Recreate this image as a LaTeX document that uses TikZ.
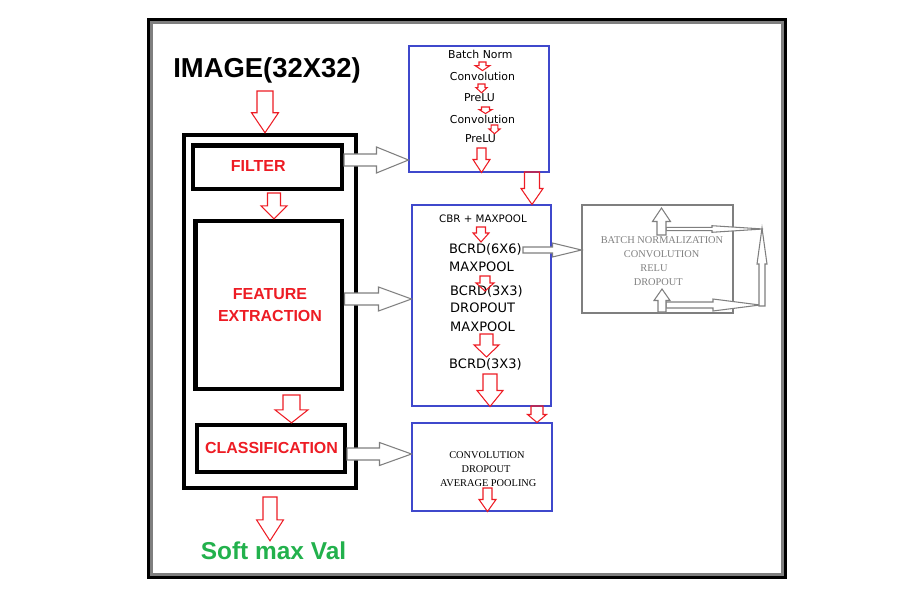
\documentclass[tikz,border=0pt]{standalone}
\usepackage{fontspec}
\setmainfont{DejaVu Sans}
\newfontfamily\headfont{Liberation Sans}
\newfontfamily\capfont{Liberation Serif}
\usetikzlibrary{calc}

\definecolor{pred}{HTML}{ED1C24}
\definecolor{pgreen}{HTML}{22B14C}
\definecolor{pblue}{HTML}{3F48CC}
\definecolor{pgray}{HTML}{7F7F7F}

% hollow block arrow: style, start, tip, shaft half width, head half width, head length (px)
\newcommand{\blockarrow}[6]{%
  \coordinate (ba-s) at (#2);
  \coordinate (ba-e) at (#3);
  \coordinate (ba-n) at ($(ba-e)!#6*0.02cm!(ba-s)$);
  \draw[#1] ($(ba-s)!#4*0.02cm!90:(ba-e)$) -- ($(ba-n)!#4*0.02cm!-90:(ba-s)$)
    -- ($(ba-n)!#5*0.02cm!-90:(ba-s)$) -- (ba-e)
    -- ($(ba-n)!#5*0.02cm!90:(ba-s)$) -- ($(ba-n)!#4*0.02cm!90:(ba-s)$)
    -- ($(ba-s)!#4*0.02cm!-90:(ba-e)$) -- cycle;
}

\begin{document}
\begin{tikzpicture}[x=0.02cm, y=-0.02cm,
  thickbox/.style={draw, line width=0.086cm},
  bluebox/.style={draw=pblue, line width=0.6pt},
  greybox/.style={draw=pgray, line width=0.6pt},
  redarr/.style={draw=pred, line width=0.6pt, line join=miter},
  grayarr/.style={draw=pgray, fill=white, line width=0.6pt, line join=miter},
  txt/.style={inner sep=0.5pt},
  smalltxt/.style={txt, font={\fontsize{6.2}{7}\selectfont}},
  midtxt/.style={txt, anchor=west, font={\fontsize{7.4}{9}\selectfont}},
  captxt/.style={txt, font={\capfont\fontsize{5.9}{7}\selectfont}},
  redlbl/.style={txt, text=pred, align=center, font={\headfont\bfseries\fontsize{9.1}{12.5}\selectfont}}]
\useasboundingbox (0,0) rectangle (909,601);

% frame
\draw[line width=0.066cm] (148.3,19.2) rectangle (785,577.7);
\draw[pgray, line width=0.06cm] (151.7,22.5) rectangle (782,574.7);

% left column
\node[txt, font={\headfont\bfseries\fontsize{15.6}{18}\selectfont}] (img) at (267,70) {IMAGE(32X32)};
\node[thickbox, line width=0.08cm, minimum width=3.452cm, minimum height=7.066cm] (outer) at (270,311.35) {};
\node[thickbox, minimum width=2.986cm, minimum height=0.866cm] (filter) at (267.5,167.2) {};
\node[thickbox, minimum width=2.934cm, minimum height=3.356cm] (feature) at (268.8,304.9) {};
\node[thickbox, minimum width=2.95cm, minimum height=0.94cm] (classif) at (271,448.5) {};
\node[redlbl] (filtertxt) at (258.3,166.5) {FILTER};
\node[redlbl] (feattxt) at (270,305) {FEATURE\\EXTRACTION};
\node[redlbl] (clstxt) at (271.5,447.5) {CLASSIFICATION};
\node[txt, text=pgreen, font={\headfont\bfseries\fontsize{13.9}{16}\selectfont}] (soft) at (273.5,551) {Soft max Val};

% right column
\node[bluebox, minimum width=2.8cm, minimum height=2.52cm] (b1) at (479,109) {};
\node[bluebox, minimum width=2.78cm, minimum height=4.02cm] (b2) at (481.5,305.5) {};
\node[bluebox, minimum width=2.8cm, minimum height=1.76cm] (b3) at (482,467) {};
\node[greybox, minimum width=3.02cm, minimum height=2.16cm] (gbox) at (657.5,259) {};

\node[smalltxt] (bnorm) at (480.3,54) {Batch Norm};
\node[smalltxt] (conva) at (482.5,76) {Convolution};
\node[smalltxt] (prelua) at (479.5,98) {PreLU};
\node[smalltxt] (convb) at (482.5,119) {Convolution};
\node[smalltxt] (prelub) at (480.5,139) {PreLU};

\node[txt, font={\fontsize{5.85}{7}\selectfont}] (cbr) at (483,219) {CBR + MAXPOOL};
\node[midtxt] (bcrda) at (448,249) {BCRD(6X6)};
\node[midtxt] (maxa) at (448,267) {MAXPOOL};
\node[midtxt] (bcrdb) at (449,291) {BCRD(3X3)};
\node[midtxt] (dropa) at (449,308) {DROPOUT};
\node[midtxt] (maxb) at (449,327) {MAXPOOL};
\node[midtxt] (bcrdc) at (448,364) {BCRD(3X3)};

\node[captxt] (convc) at (487,455) {CONVOLUTION};
\node[captxt] (dropb) at (486,469) {DROPOUT};
\node[captxt] (avgpool) at (488.3,483) {AVERAGE POOLING};

\node[captxt, text=pgray] (gbn) at (662,240) {BATCH NORMALIZATION};
\node[captxt, text=pgray] (gconv) at (661.7,254) {CONVOLUTION};
\node[captxt, text=pgray] (grelu) at (654,268) {RELU};
\node[captxt, text=pgray] (gdrop) at (658.3,282) {DROPOUT};

% red flow arrows
\coordinate (a-img) at (265,91);
\coordinate (a-fil) at (274,193);
\coordinate (a-fea) at (291.5,395);
\coordinate (a-out) at (270,497);
\coordinate (a-b1) at (532,172);
\coordinate (a-b2) at (537,406);
\blockarrow{redarr}{a-img}{a-img |- outer.north}{8}{13.5}{20}
\blockarrow{redarr}{a-fil}{a-fil |- feature.north}{6.5}{13}{13}
\blockarrow{redarr}{a-fea}{a-fea |- classif.north}{8.5}{16.5}{13}
\blockarrow{redarr}{a-out}{a-out |- soft.north}{7}{13.5}{21}
\blockarrow{redarr}{a-b1}{a-b1 |- b2.north}{7.5}{11}{16}
\blockarrow{redarr}{a-b2}{a-b2 |- b3.north}{6}{9.5}{8}

\coordinate (a-bn) at (482.5,62);
\coordinate (a-ca) at (481.5,84);
\coordinate (a-pa) at (485.5,107);
\coordinate (a-cb) at (494.5,125);
\coordinate (a-pb) at (481.5,148);
\blockarrow{redarr}{a-bn}{a-bn |- conva.north}{3.5}{7.5}{5}
\blockarrow{redarr}{a-ca}{a-ca |- prelua.north}{3.5}{5.5}{5}
\blockarrow{redarr}{a-pa}{a-pa |- convb.north}{4}{6.5}{4}
\blockarrow{redarr}{a-cb}{a-cb |- prelub.north}{3.3}{5.5}{4.7}
\blockarrow{redarr}{a-pb}{a-pb |- b1.south}{4.5}{8.5}{13}

\coordinate (a-cbr) at (481,227);
\coordinate (a-mxa) at (485,276);
\coordinate (a-mxb) at (486.5,334);
\coordinate (a-bc) at (490,374);
\coordinate (a-b3) at (487.5,488);
\blockarrow{redarr}{a-cbr}{a-cbr |- bcrda.north}{4.5}{8}{9}
\blockarrow{redarr}{a-mxa}{a-mxa |- bcrdb.center}{5}{9}{8}
\blockarrow{redarr}{a-mxb}{a-mxb |- bcrdc.north}{6.5}{12.5}{12}
\blockarrow{redarr}{a-bc}{a-bc |- b2.south}{7}{13}{16}
\blockarrow{redarr}{a-b3}{a-b3 |- b3.south}{4.5}{8.5}{12}

% grey arrows to the detail boxes
\coordinate (g-fil) at (344,160);
\coordinate (g-fea) at (344.5,299);
\coordinate (g-cls) at (347,454);
\coordinate (g-bc) at (523,250);
\blockarrow{grayarr}{g-fil}{g-fil -| b1.west}{6}{13}{32}
\blockarrow{grayarr}{g-fea}{g-fea -| b2.west}{6}{12}{33}
\blockarrow{grayarr}{g-cls}{g-cls -| b3.west}{6}{11.5}{32}
\blockarrow{grayarr}{g-bc}{g-bc -| gbox.west}{3}{7}{29}

% loop
\coordinate (lp-a) at (666,229);
\coordinate (lp-b) at (763,229);
\coordinate (lp-c) at (666,305);
\coordinate (lp-d) at (760,305);
\coordinate (lp-e) at (762,306);
\coordinate (lp-f) at (762,228);
\coordinate (lp-u1) at (661.5,235);
\coordinate (lp-t1) at (661.5,208);
\coordinate (lp-u2) at (662,312);
\coordinate (lp-t2) at (662,289);
\blockarrow{grayarr}{lp-a}{lp-b}{1.7}{3.3}{51}
\blockarrow{grayarr}{lp-c}{lp-d}{3}{6}{47}
\blockarrow{grayarr}{lp-e}{lp-f}{3}{5}{36}
\blockarrow{grayarr}{lp-u1}{lp-t1}{4.5}{9}{13.5}
\blockarrow{grayarr}{lp-u2}{lp-t2}{4}{8}{11.5}
\end{tikzpicture}
\end{document}
